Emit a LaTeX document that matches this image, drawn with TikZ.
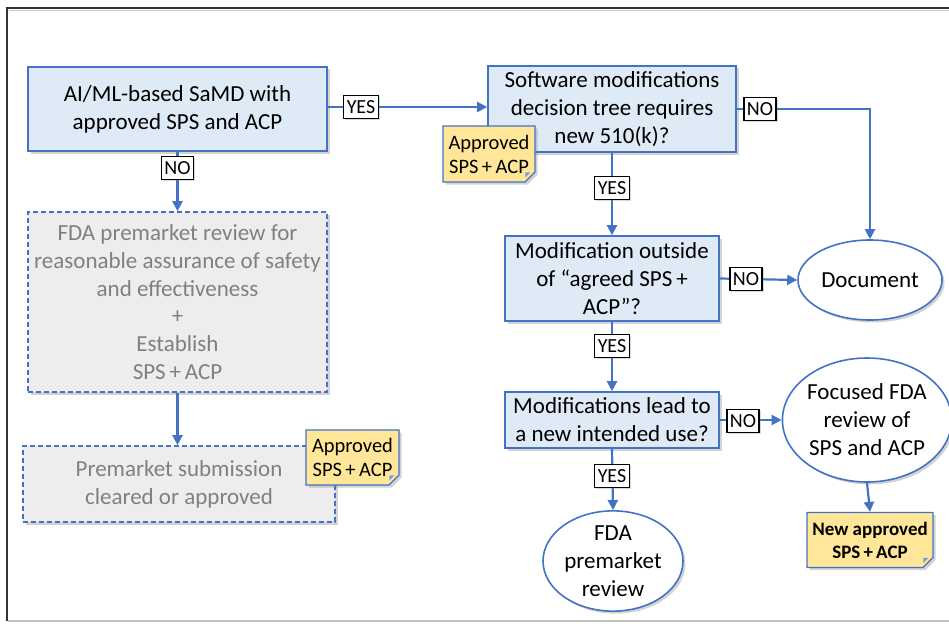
\documentclass[tikz,border=0pt]{standalone}
\usepackage{fontspec}
\setmainfont{Carlito}
\usetikzlibrary{shapes.geometric,shapes.misc,shadows,arrows.meta}
\definecolor{obl}{HTML}{4472C4}
\definecolor{lbl}{HTML}{DEEAF6}
\definecolor{gfill}{HTML}{EDEDED}
\definecolor{gtext}{HTML}{808080}
\definecolor{ynote}{HTML}{FFE699}
\tikzset{
  shad/.style={drop shadow={opacity=0.35,shadow xshift=2.5pt,shadow yshift=-2.5pt}},
  bluebox/.style={rectangle,draw=obl,line width=1.6pt,fill=lbl,shad,align=center,
    font=\fontsize{23}{28}\selectfont,inner sep=0pt},
  graybox/.style={rectangle,draw=obl,dashed,dash pattern=on 5pt off 3pt,line width=1.6pt,fill=gfill,shad,
    align=center,text=gtext,font=\fontsize{23}{27.8}\selectfont,inner sep=0pt},
  endell/.style={ellipse,draw=obl,line width=1.6pt,fill=white,shad,align=center,
    font=\fontsize{23}{28}\selectfont,inner sep=0pt},
  notebox/.style={chamfered rectangle,chamfered rectangle corners=south east,
    chamfered rectangle xsep=5pt,chamfered rectangle ysep=5pt,
    draw=obl,line width=1.2pt,fill=ynote,shad,align=center,
    font=\fontsize{20.5}{24}\selectfont,inner sep=0pt},
  yn/.style={rectangle,draw=black,line width=1.3pt,fill=white,
    drop shadow={opacity=0.3,shadow xshift=1.5pt,shadow yshift=-1.5pt},
    font=\fontsize{20}{21}\selectfont,inner xsep=3pt,inner ysep=1pt,minimum height=23pt},
  arr/.style={draw=obl,line width=2.2pt,-{Triangle[length=10pt,width=10pt]}},
}
\newcommand{\fold}[1]{\fill[obl!70!white] ([xshift=-5pt]#1.south east) -- ([xshift=-5pt,yshift=5pt]#1.south east) -- ([yshift=5pt]#1.south east) -- cycle;}
\begin{document}
\begin{tikzpicture}[x=1pt,y=-1pt]
\useasboundingbox (0,0) rectangle (949,623);
% frame
\draw[black!80,line width=1.6pt] (960,8) -- (7,8) -- (7,621);
\draw[black!25,line width=1.2pt] (8,621) -- (960,621);
\draw[black!20,line width=1pt] (9,10.5) -- (960,10.5);

% main nodes
\node[bluebox,minimum width=299pt,minimum height=84pt] (A) at (177.5,109) {AI/ML-based SaMD with\\approved SPS and ACP};
\node[bluebox,minimum width=248pt,minimum height=86pt] (B) at (612,109) {Software modifications\\decision tree requires\\new 510(k)?};
\node[bluebox,minimum width=214pt,minimum height=85pt] (C) at (612,278.5) {Modification outside\\of “agreed SPS\,+\\ACP”?};
\node[bluebox,minimum width=214pt,minimum height=56pt] (D) at (612,420) {Modifications lead to\\a new intended use?};
\node[endell,minimum width=144pt,minimum height=80pt] (Doc) at (870,280) {Document};
\node[endell,minimum width=160pt,minimum height=124pt] (E) at (867,420) {Focused FDA\\review of\\SPS and ACP};
\node[endell,minimum width=140pt,minimum height=93pt] (G) at (613,561) {FDA\\premarket\\review};
\node[graybox,minimum width=299pt,minimum height=180pt] (H) at (177.5,302) {FDA premarket review for\\reasonable assurance of safety\\and effectiveness\\+\\Establish\\SPS\,+\,ACP};
\node[graybox,minimum width=312pt,minimum height=76pt] (I) at (179,484) {Premarket submission\\cleared or approved};

% connectors
\draw[arr] (A.east |- 0,107) -- (B.west |- 0,107);
\draw[arr] (B.east) -- (B.east -| Doc.north) -- (Doc.north);
\draw[arr] (B.south) -- (C.north);
\draw[arr] (C.east) -- (Doc.west);
\draw[arr] (C.south) -- (D.north);
\draw[arr] (D.east) -- (E.west);
\draw[arr] (D.south) -- (G.north);
\draw[arr] (A.south) -- (H.north);
\draw[arr] (H.south) -- (I.north -| H.south);

% notes
\node[notebox,minimum width=92pt,minimum height=56pt] (NB) at (489,154) {Approved\\SPS\,+\,ACP};
\fold{NB}
\node[notebox,minimum width=93pt,minimum height=55pt] (NJ) at (352.5,457.5) {Approved\\SPS\,+\,ACP};
\fold{NJ}
\node[notebox,minimum width=126pt,minimum height=55pt,font=\bfseries\fontsize{19}{23}\selectfont] (NF) at (870,540) {New approved\\SPS\,+\,ACP};
\fold{NF}
\draw[arr] (E.south) -- (NF.north);

% yes/no labels
\node[yn] (l1) at (361,107) {YES};
\node[yn] (l2) at (760,109) {NO};
\node[yn] (l3) at (612,188) {YES};
\node[yn] (l4) at (746,279) {NO};
\node[yn] (l5) at (612,346) {YES};
\node[yn] (l6) at (743,421) {NO};
\node[yn] (l7) at (612,476) {YES};
\node[yn] (l8) at (177.5,168) {NO};
\end{tikzpicture}
\end{document}
